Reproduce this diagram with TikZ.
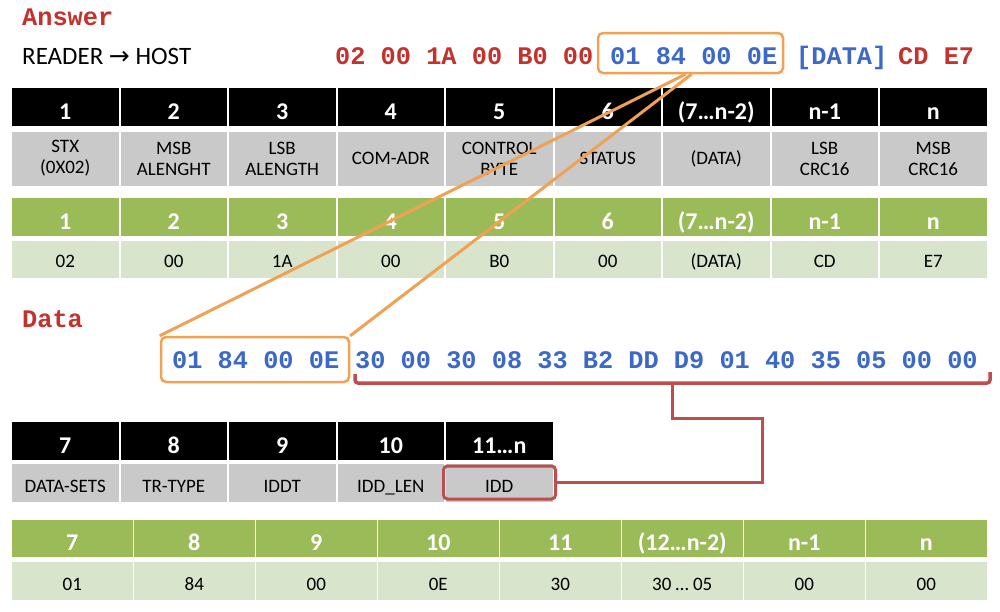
\documentclass[tikz,border=0pt]{standalone}
\usepackage{fontspec}
\setmainfont{Carlito}
\newfontfamily\hexfont{Liberation Mono}
\newfontfamily\arrowfont{DejaVu Sans}
\definecolor{hexred}{RGB}{196,50,45}
\definecolor{hexblue}{RGB}{60,104,200}
\definecolor{orangec}{RGB}{240,162,84}
\definecolor{darkred}{RGB}{190,78,76}
\definecolor{greyrow}{RGB}{201,201,201}
\definecolor{greenhd}{RGB}{155,187,89}
\definecolor{lightgreen}{RGB}{216,228,204}
\begin{document}
\begin{tikzpicture}[x=1pt,y=-1pt,
  cell/.style={rectangle, inner sep=0pt, anchor=center, align=center},
  hdfont/.style={font=\fontsize{24}{26}\selectfont\bfseries},
  txfont/.style={font=\fontsize{19}{21}\selectfont},
  blackhd/.style={cell, hdfont, fill=black, text=white},
  greycell/.style={cell, txfont, fill=greyrow, text=black},
  greenhdc/.style={cell, hdfont, fill=greenhd, text=white},
  lightcell/.style={cell, txfont, fill=lightgreen, text=black},
  topcol/.style={minimum width=106.5pt},
  botcol/.style={minimum width=120.5pt},
  hexstyle/.style={anchor=base west, inner sep=0pt, font=\hexfont\bfseries\fontsize{25.3}{28}\selectfont},
  callout/.style={draw=orangec, line width=2.5pt, rounded corners=5pt, rectangle, inner sep=0pt},
  orangeline/.style={draw=orangec, line width=3pt},
  redline/.style={draw=darkred, line width=3pt}
]
\useasboundingbox (0,0) rectangle (1000,611);
\fill[white] (0,0) rectangle (1000,611);

% titles
\node[hexstyle, text=hexred] (answer) at (22,25) {Answer};
\node[anchor=base west, inner sep=0pt, font=\fontsize{25}{28}\selectfont] (dir) at (22,64) {READER {\arrowfont →} HOST};
\node[hexstyle, text=hexred] (hexa) at (335,64) {02 00 1A 00 B0 00};
\node[hexstyle, text=hexblue] (hexb) at (610,64) {01 84 00 0E};
\node[hexstyle, text=hexblue] (hexc) at (796,64) {[DATA]};
\node[hexstyle, text=hexred] (hexd) at (898,64) {CD E7};

% top tables
\foreach \t [count=\i from 0] in {1,2,3,4,5,6,{(7…n-2)},n-1,n}{
  \node[blackhd, topcol, minimum height=38pt, text height=25pt, text depth=0pt] (th\i) at ({65.25+108.5*\i},107) {\t};
  \node[greenhdc, topcol, minimum height=38pt, text height=24pt, text depth=0pt] (gh\i) at ({65.25+108.5*\i},217) {\t};
}
\foreach \t [count=\i from 0] in {{STX\\(0X02)},{MSB\\ALENGHT},{LSB\\ALENGTH},COM-ADR,{CONTROL\\BYTE},STATUS,(DATA),{LSB\\CRC16},{MSB\\CRC16}}{
  \node[greycell, topcol, minimum height=54pt] (tg\i) at ({65.25+108.5*\i},158.5) {\t};
}
\foreach \t [count=\i from 0] in {02,00,1A,00,B0,00,(DATA),CD,E7}{
  \node[lightcell, topcol, minimum height=37pt, text height=16pt, text depth=0pt] (gv\i) at ({65.25+108.5*\i},259.5) {\t};
}

% data line
\node[hexstyle, text=hexred] (datalbl) at (22,327) {Data};
\node[hexstyle, text=hexblue] (hexe) at (172,368) {01 84 00 0E};
\node[hexstyle, text=hexblue] (hexf) at (355,368) {30 00 30 08 33 B2 DD D9 01 40 35 05 00 00};

% lower black table
\foreach \t [count=\i from 0] in {7,8,9,10,11…n}{
  \node[blackhd, topcol, minimum height=38pt, text height=24pt, text depth=0pt] (lh\i) at ({65.25+108.5*\i},441) {\t};
}
\foreach \t [count=\i from 0] in {DATA-SETS,TR-TYPE,IDDT,IDD\_LEN,IDD}{
  \node[greycell, topcol, minimum height=38pt, text height=18pt, text depth=0pt] (lg\i) at ({65.25+108.5*\i},483) {\t};
}

% bottom green table
\foreach \t [count=\i from 0] in {7,8,9,10,11,{(12…n-2)},n-1,n}{
  \node[greenhdc, botcol, minimum height=37pt, text height=23pt, text depth=0pt] (bh\i) at ({72.25+122*\i},538.5) {\t};
}
\foreach \t [count=\i from 0] in {01,84,00,0E,30,{30 … 05},00,00}{
  \node[lightcell, botcol, minimum height=38pt, text height=18pt, text depth=0pt] (bv\i) at ({72.25+122*\i},581) {\t};
}

% callout boxes
\node[callout, minimum width=185pt, minimum height=40pt] (topbox) at (690.5,53) {};
\node[callout, minimum width=188pt, minimum height=45pt] (botbox) at (255,359.5) {};
\draw[orangeline] ([xshift=-5pt]topbox.south) -- (botbox.north west);
\draw[orangeline] ([xshift=1pt]topbox.south) -- (botbox.north east);

% IDD box and bracket
\node[rectangle, draw=darkred, line width=3pt, rounded corners=4pt, minimum width=112pt, minimum height=33pt, inner sep=0pt] (iddbox) at (499.5,482.5) {};
\coordinate (brL) at (355,374);
\coordinate (brR) at (990,372);
\coordinate (brM) at (672,383);
\coordinate (bend) at (762,418);
\draw[draw=darkred, line width=3.5pt, rounded corners=3pt] (brL) -- (355,383) -- (990,383) -- (brR);
\draw[redline] (brM) |- (bend) |- (iddbox.east);
\end{tikzpicture}
\end{document}
